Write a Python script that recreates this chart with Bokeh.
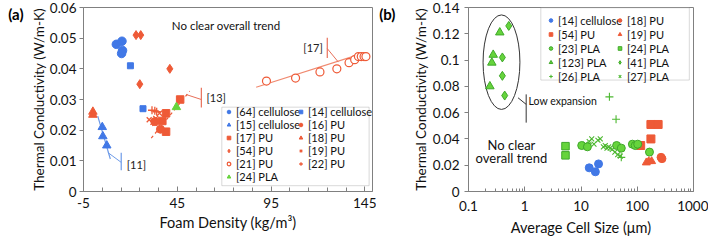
import math
from bokeh.plotting import figure
from bokeh.layouts import row
from bokeh.models import (FixedTicker, NumeralTickFormatter, Legend, LegendItem,
                          Label, Range1d, LinearAxis, CustomJSTickFormatter, BoxAnnotation)
from bokeh.embed import file_html
from bokeh.resources import INLINE

FONT = "Lato"
BLUE = "#4178E6"
RED = "#EE5A37"
GREEN = "#66D43C"
GREEN_EDGE = "#3FA82A"
FRAME = "#808080"

# ---------------- Panel (a) data: foam density vs thermal conductivity ----------------
a64_x = [12.5, 15.5, 15.8, 15.3]
a64_y = [0.048, 0.049, 0.046, 0.045]
a14_x = [20.0, 26.7]
a14_y = [0.041, 0.027]
a15_x = [5.0, 5.3, 7.4]
a15_y = [0.021, 0.018, 0.015]
a16_x = [36.0, 33.0]
a16_y = [0.0203, 0.0228]
a17_x = [46.5, 39.0, 37.0, 39.0]
a17_y = [0.030, 0.0255, 0.023, 0.0195]
a18_x = [0.0, 0.0]
a18_y = [0.026, 0.025]
a54_x = [23.0, 25.5, 41.0, 25.0]
a54_y = [0.051, 0.051, 0.040, 0.035]
a19_x = [30.0, 32.0, 33.5, 35.5, 33.0]
a19_y = [0.0234, 0.0226, 0.0238, 0.0255, 0.0222]
a21_x = [92.5, 108.0, 121.0, 130.0, 136.5, 139.5, 141.5, 143.0, 144.5, 145.5]
a21_y = [0.036, 0.037, 0.039, 0.040, 0.042, 0.043, 0.044, 0.044, 0.044, 0.044]
a22_x = [31.5, 33.0, 34.0]
a22_y = [0.0265, 0.0263, 0.026]
a24_x = [44.5]
a24_y = [0.0275]

# trend lines and callouts (a)
t11_x = [2.6, 9.3]
t11_y = [0.0246, 0.0106]
c11_x = [8.0, 15.1]
c11_y = [0.0127, 0.0095]
b11_x = [15.1, 15.1]
b11_y = [0.0126, 0.0069]
t13_x = [31.1, 51.6]
t13_y = [0.0174, 0.0327]
c13_x = [49.8, 57.8]
c13_y = [0.0316, 0.0300]
b13_x = [57.8, 57.8]
b13_y = [0.0338, 0.0274]
t17_x = [87.0, 142.5]
t17_y = [0.0340, 0.0448]
c17_x = [130.8, 124.9]
c17_y = [0.0422, 0.0466]
b17_x = [124.9, 124.9]
b17_y = [0.0501, 0.0435]

a_xticks = [-5, 45, 95, 145]
a_xminor = [5, 15, 25, 35, 55, 65, 75, 85, 105, 115, 125, 135]
a_yticks = [0, 0.01, 0.02, 0.03, 0.04, 0.05, 0.06]
a_tag_y = [0.0578]
a_legbox = dict(left=68.7, right=147.2, bottom=0.0019, top=0.0275)

# ---------------- Panel (b) data: cell size vs thermal conductivity ----------------
b14_x = [14.0, 18.0, 20.5]
b14_y = [0.018, 0.015, 0.021]
b18_x = [265.0, 275.0]
b18_y = [0.026, 0.025]
b54_x = [175.0, 235.0, 175.0, 115.0]
b54_y = [0.051, 0.051, 0.040, 0.035]
b19_x = [145.0, 160.0, 180.0]
b19_y = [0.022, 0.023, 0.023]
b23_x = [10.3, 13.0, 43.0, 52.0, 82.0, 92.0, 102.0, 165.0]
b23_y = [0.035, 0.034, 0.035, 0.033, 0.036, 0.035, 0.036, 0.030]
b24_x = [5.3, 5.3]
b24_y = [0.0345, 0.0275]
b123_x = [0.36, 0.275, 0.26, 0.24]
b123_y = [0.121, 0.104, 0.098, 0.080]
b41_x = [0.52, 0.40, 0.40, 0.44]
b41_y = [0.126, 0.102, 0.088, 0.073]
b26_x = [32.0, 42.0, 52.0]
b26_y = [0.072, 0.055, 0.026]
b27_x = [12, 14, 15.5, 17, 20, 22, 25, 27, 29, 31, 33, 36, 40, 45, 50]
b27_y = [0.036, 0.038, 0.040, 0.036, 0.039, 0.040, 0.034, 0.035, 0.033, 0.034,
         0.033, 0.032, 0.030, 0.028, 0.027]

ell_x = [0.386]
ell_y = [0.0984]
ell_xspan = [0.184, 0.81]
ell_yspan = [0.0625, 0.134]
cl_x = [0.76, 1.06]
cl_y = [0.0713, 0.0663]
bl_x = [1.06, 1.06]
bl_y = [0.0739, 0.0524]

b_xticks = [0.1, 1, 10, 100, 1000]
b_xminor = [m * d for d in (0.1, 1, 10, 100) for m in range(2, 10)]
b_yticks = [0, 0.02, 0.04, 0.06, 0.08, 0.1, 0.12, 0.14]
b_tag_y = [0.1347]
b_legbox = dict(left=1.93, right=843.0, bottom=0.0848, top=0.1398)


def style(p, xticks, xminor, yticks, xlabel):
    p.xgrid.visible = False
    p.ygrid.visible = False
    p.outline_line_color = FRAME
    p.outline_line_width = 1
    p.background_fill_color = "white"
    p.xaxis.ticker = FixedTicker(ticks=xticks, minor_ticks=xminor)
    p.yaxis.ticker = FixedTicker(ticks=yticks)
    p.yaxis.formatter = NumeralTickFormatter(format="0.[00]")
    p.xaxis.formatter = NumeralTickFormatter(format="0.[0]")
    for ax in (p.xaxis, p.yaxis):
        ax.axis_line_color = FRAME
        ax.major_tick_line_color = FRAME
        ax.minor_tick_line_color = FRAME
        ax.major_label_text_font = FONT
        ax.major_label_text_font_size = "13.5px"
        ax.major_label_text_color = "#111111"
        ax.major_label_text_line_height = 1.0
        ax.axis_label_text_font = FONT
        ax.axis_label_text_font_style = "normal"
        ax.axis_label_text_color = "#111111"
        ax.axis_label_text_line_height = 1.0
    p.xaxis.axis_label_text_font_size = "14.5px"
    p.yaxis.axis_label_text_font_size = "13.5px"
    p.xaxis.major_tick_in = 5
    p.xaxis.major_tick_out = 0
    p.xaxis.minor_tick_in = 4
    p.xaxis.minor_tick_out = 0
    p.yaxis.major_tick_in = 0
    p.yaxis.major_tick_out = 4
    p.yaxis.minor_tick_line_color = None
    p.yaxis.major_label_standoff = 3
    p.yaxis.axis_label_standoff = 1
    p.xaxis.axis_label = xlabel
    p.yaxis.axis_label = "Thermal Conductivity (W/m-K)"


def panel_tag(p, tag, ypos, standoff):
    # horizontal "(a)"/"(b)" tag in the left margin, drawn as an outer left axis label
    ax = LinearAxis(ticker=FixedTicker(ticks=ypos),
                    formatter=CustomJSTickFormatter(code="return '%s'" % tag))
    ax.axis_line_color = None
    ax.major_tick_line_color = None
    ax.minor_tick_line_color = None
    ax.major_tick_in = 0
    ax.major_tick_out = 0
    ax.major_label_standoff = standoff
    ax.major_label_text_font = FONT
    ax.major_label_text_font_size = "15px"
    ax.major_label_text_font_style = "bold"
    ax.major_label_text_color = "#000000"
    p.add_layout(ax, "left")


def txt(p, x, y, t, size="11px", align="left", color="#222222"):
    p.add_layout(Label(x=x, y=y, text=t, text_font=FONT, text_font_size=size,
                       text_align=align, text_baseline="middle", text_color=color))


def legend_column(p, items, loc, row_h):
    leg = Legend(items=[LegendItem(label=l, renderers=[r]) for l, r in items],
                 location=loc, orientation="vertical")
    leg.label_text_font = FONT
    leg.label_text_font_size = "11px"
    leg.label_text_line_height = 1.0
    leg.label_text_color = "#111111"
    leg.glyph_height = row_h
    leg.glyph_width = 9
    leg.label_height = row_h
    leg.label_standoff = 3
    leg.spacing = 0
    leg.padding = 0
    leg.margin = 0
    leg.border_line_color = None
    leg.background_fill_alpha = 0
    p.add_layout(leg)


def legend_box(p, box):
    p.add_layout(BoxAnnotation(fill_color="white", fill_alpha=1, line_color=FRAME,
                               line_width=1, level="overlay", **box))


# ---------------- figure (a) ----------------
A_W, A_H = 376, 240
A_L, A_R, A_T, A_B = 83, 4, 7, 43
pa = figure(width=A_W, height=A_H, output_backend="svg", toolbar_location=None,
            x_range=Range1d(-5, 149), y_range=Range1d(0, 0.06),
            min_border_left=A_L, min_border_right=A_R, min_border_top=A_T, min_border_bottom=A_B)
style(pa, a_xticks, a_xminor, a_yticks, "Foam Density (kg/m³)")
pa.xaxis.major_label_standoff = 6
pa.xaxis.axis_label_standoff = 3
pa.yaxis.axis_label_standoff = 0
panel_tag(pa, "(a)", a_tag_y, 4)

pa.line(t11_x, t11_y, line_color="#6E9BE8", line_width=1.2)
pa.line(c11_x, c11_y, line_color="#6E9BE8", line_width=1)
pa.line(b11_x, b11_y, line_color="#6E9BE8", line_width=1.2)
pa.line(t13_x, t13_y, line_color=RED, line_width=1.2, line_dash="3 3")
pa.line(c13_x, c13_y, line_color="#E8705A", line_width=1)
pa.line(b13_x, b13_y, line_color="#E8705A", line_width=1.2)
pa.line(t17_x, t17_y, line_color="#F08A70", line_width=1.2)
pa.line(c17_x, c17_y, line_color="#E8705A", line_width=1)
pa.line(b17_x, b17_y, line_color="#E8705A", line_width=1.2)

r64 = pa.scatter(a64_x, a64_y, marker="circle", size=8.5, fill_color=BLUE, line_color=BLUE)
r14 = pa.scatter(a14_x, a14_y, marker="square", size=6, fill_color=BLUE, line_color=BLUE)
r15 = pa.scatter(a15_x, a15_y, marker="triangle", size=8.5, fill_color=BLUE, line_color=BLUE)
r54 = pa.scatter(a54_x, a54_y, marker="diamond", size=9, fill_color=RED, line_color=RED)
r21 = pa.scatter(a21_x, a21_y, marker="circle", size=8, fill_color="white", line_color=RED, line_width=1.2)
r19 = pa.scatter(a19_x, a19_y, marker="x", size=7, line_color=RED, line_width=1.3)
r22 = pa.scatter(a22_x, a22_y, marker="cross", size=8, line_color=RED, line_width=1.3)
r17 = pa.scatter(a17_x, a17_y, marker="square", size=7.5, fill_color=RED, line_color=RED)
r16 = pa.scatter(a16_x, a16_y, marker="circle", size=8, fill_color=RED, line_color=RED)
r18 = pa.scatter(a18_x, a18_y, marker="triangle", size=8.5, fill_color=RED, line_color=RED)
r24 = pa.scatter(a24_x, a24_y, marker="triangle", size=8.5, fill_color=GREEN, line_color=GREEN)

txt(pa, 71, 0.054, "No clear overall trend", size="11.5px", align="center", color="#111111")
txt(pa, 18, 0.0088, "[11]", size="11px")
txt(pa, 60.5, 0.0306, "[13]", size="11px")
txt(pa, 122.5, 0.047, "[17]", size="11px", align="right")

legend_box(pa, a_legbox)
A_ROW = 13
legend_column(pa, [("[64] cellulose", r64), ("[15] cellulose", r15), ("[17] PU", r17),
                   ("[54] PU", r54), ("[21] PU", r21), ("[24] PLA", r24)], (141, 8), A_ROW)
legend_column(pa, [("[14] cellulose", r14), ("[16] PU", r16), ("[18] PU", r18),
                   ("[19] PU", r19), ("[22] PU", r22)], (213, 8 + A_ROW), A_ROW)

# ---------------- figure (b) ----------------
B_W, B_H = 332, 240
B_L, B_R, B_T, B_B = 88, 15, 6, 49
pb = figure(width=B_W, height=B_H, output_backend="svg", toolbar_location=None,
            x_axis_type="log", x_range=Range1d(0.1, 1000), y_range=Range1d(0, 0.14),
            min_border_left=B_L, min_border_right=B_R, min_border_top=B_T, min_border_bottom=B_B)
style(pb, b_xticks, b_xminor, b_yticks, "Average Cell Size (μm)")
pb.xaxis.minor_tick_in = 3
pb.xaxis.major_label_standoff = 9
pb.xaxis.axis_label_standoff = 5
pb.yaxis.major_label_standoff = 5
pb.yaxis.axis_label_standoff = 1
panel_tag(pb, "(b)", b_tag_y, 14)

frame_w = B_W - B_L - B_R
frame_h = B_H - B_T - B_B
ell_w = (math.log10(ell_xspan[1]) - math.log10(ell_xspan[0])) / 4.0 * frame_w
ell_h = (ell_yspan[1] - ell_yspan[0]) / 0.14 * frame_h
pb.ellipse(ell_x, ell_y, width=ell_w, height=ell_h, width_units="screen",
           height_units="screen", fill_color=None, line_color="#333333", line_width=1)
pb.line(cl_x, cl_y, line_color="#333333", line_width=1)
pb.line(bl_x, bl_y, line_color="#333333", line_width=1)

s14 = pb.scatter(b14_x, b14_y, marker="circle", size=8, fill_color=BLUE, line_color=BLUE)
s24 = pb.scatter(b24_x, b24_y, marker="square", size=7.5, fill_color=GREEN, line_color=GREEN_EDGE)
s27 = pb.scatter(b27_x, b27_y, marker="x", size=7, line_color="#4CB830", line_width=1.1)
s26 = pb.scatter(b26_x, b26_y, marker="cross", size=8, line_color="#4CB830", line_width=1.1)
s54 = pb.scatter(b54_x, b54_y, marker="square", size=8, fill_color=RED, line_color=RED)
s23 = pb.scatter(b23_x, b23_y, marker="circle", size=8, fill_color=GREEN, line_color=GREEN_EDGE)
s19 = pb.scatter(b19_x, b19_y, marker="triangle", size=8, fill_color=RED, line_color=RED)
s18 = pb.scatter(b18_x, b18_y, marker="circle", size=8, fill_color=RED, line_color=RED)
s123 = pb.scatter(b123_x, b123_y, marker="triangle", size=8.5, fill_color=GREEN, line_color=GREEN_EDGE)
s41 = pb.scatter(b41_x, b41_y, marker="diamond", size=9, fill_color=GREEN, line_color=GREEN_EDGE)

txt(pb, 0.58, 0.0355, "No clear", size="13px", align="center", color="#111111")
txt(pb, 0.58, 0.0255, "overall trend", size="13px", align="center", color="#111111")
txt(pb, 1.17, 0.0688, "Low expansion", size="10.5px", color="#111111")

legend_box(pb, b_legbox)
B_ROW = 14
b_leg_y = frame_h - 7 - 5 * B_ROW
legend_column(pb, [("[14] cellulose", s14), ("[54] PU", s54), ("[23] PLA", s23),
                   ("[123] PLA", s123), ("[26] PLA", s26)], (78, b_leg_y), B_ROW)
legend_column(pb, [("[18] PU", s18), ("[19] PU", s19), ("[24] PLA", s24),
                   ("[41] PLA", s41), ("[27] PLA", s27)], (147, b_leg_y), B_ROW)

layout = row(pa, pb, spacing=0)
open("out.html", "w").write(file_html(layout, INLINE))
